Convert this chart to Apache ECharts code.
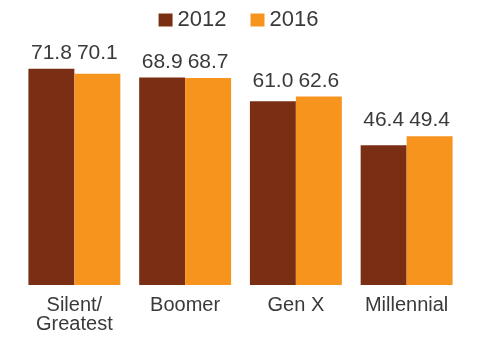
<!DOCTYPE html>
<html lang="en">
<head>
    <meta charset="UTF-8">
    <title>Generations</title>
    <script src="https://cdn.jsdelivr.net/npm/echarts@6/dist/echarts.min.js"></script>
    <style>
        body { margin: 0; background: #fff; }
        #main { width: 477px; height: 337px; }
    </style>
</head>
<body>
    <div id="main"></div>
    <script type="text/javascript">
        // data
        var categories = ['Silent/\nGreatest', 'Boomer', 'Gen X', 'Millennial'];
        var values2012 = [71.8, 68.9, 61.0, 46.4];
        var values2016 = [70.1, 68.7, 62.6, 49.4];

        var textFont = '"Liberation Sans", Arial, sans-serif';

        var myChart = echarts.init(document.getElementById('main'));
        myChart.setOption({
            animation: false,
            legend: {
                data: ['2012', '2016'],
                top: 4,
                left: 'center',
                icon: 'rect',
                itemWidth: 14,
                itemHeight: 13,
                itemGap: 24,
                textStyle: { fontSize: 22, fontFamily: textFont, color: '#3a3a3a' }
            },
            grid: { left: 19, right: 15, top: 44, bottom: 52 },
            xAxis: {
                type: 'category',
                data: categories,
                axisLine: { show: false },
                axisTick: { show: false },
                axisLabel: {
                    fontSize: 20,
                    fontFamily: textFont,
                    color: '#3a3a3a',
                    margin: 11,
                    lineHeight: 19
                }
            },
            yAxis: {
                type: 'value',
                min: 0,
                max: 80,
                show: false,
                splitLine: { show: false }
            },
            series: [
                {
                    name: '2012',
                    type: 'bar',
                    data: values2012,
                    barGap: 0,
                    barCategoryGap: '17%',
                    itemStyle: { color: '#7a2f15' }
                },
                {
                    name: '2016',
                    type: 'bar',
                    data: values2016,
                    itemStyle: { color: '#f7941e' }
                }
            ]
        });

        // both labels of a group sit on one line, above the taller bar
        function labelled(values) {
            return values.map(function (v, i) {
                var top = Math.max(values2012[i], values2016[i]);
                var shift = myChart.convertToPixel({ yAxisIndex: 0 }, top) -
                    myChart.convertToPixel({ yAxisIndex: 0 }, v);
                return {
                    value: v,
                    label: {
                        show: true,
                        position: 'top',
                        distance: 5,
                        offset: [0, shift],
                        fontSize: 21,
                        fontFamily: textFont,
                        color: '#3a3a3a',
                        formatter: function (p) { return p.value.toFixed(1); }
                    }
                };
            });
        }

        myChart.setOption({
            series: [
                { name: '2012', data: labelled(values2012) },
                { name: '2016', data: labelled(values2016) }
            ]
        });
    </script>
</body>
</html>
